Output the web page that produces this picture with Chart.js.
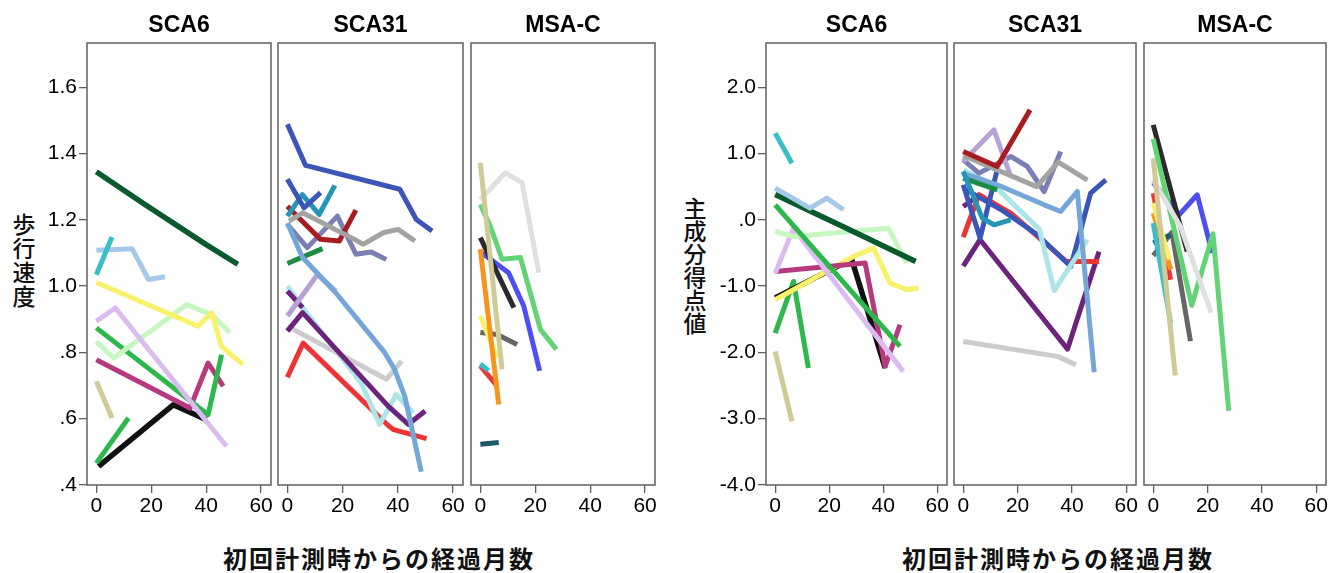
<!DOCTYPE html>
<html>
<head>
<meta charset="utf-8">
<script src="https://cdn.jsdelivr.net/npm/chart.js@4.4.1/dist/chart.umd.min.js"></script>
<style>
  body { margin: 0; width: 1330px; height: 573px; background: #fff; position: relative; overflow: hidden; }
  canvas { position: absolute; top: 0; }
  .ytitle { position: absolute; writing-mode: vertical-rl; font-family: "Noto Sans CJK JP"; font-size: 23px; font-weight: 500; line-height: 1; color: #111; }
  .xtitle { position: absolute; top: 546px; font-family: "Noto Sans CJK JP"; font-size: 24px; font-weight: bold; line-height: 1; letter-spacing: 2px; white-space: nowrap; color: #111; }
</style>
</head>
<body>
<div class="ytitle" style="left:12px;top:213px;letter-spacing:1px">歩行速度</div>
<div class="ytitle" style="left:683px;top:197px;letter-spacing:0px">主成分得点値</div>
<div class="xtitle" style="left:223px">初回計測時からの経過月数</div>
<div class="xtitle" style="left:902px">初回計測時からの経過月数</div>
<script>
const groups = ['SCA6', 'SCA31', 'MSA-C'];
const monthTicks = [0, 20, 40, 60];
const speedTicks = [0.4, 0.6, 0.8, 1.0, 1.2, 1.4, 1.6];
const scoreTicks = [-4, -3, -2, -1, 0, 1, 2];

// one entry per patient: [months since first measurement, value]
const speedSCA6 = [
  [[0, 1.345], [17, 1.25], [40, 1.125], [51.5, 1.066]],
  [[0, 1.034], [5.7, 1.148]],
  [[0, 1.108], [13, 1.113], [19, 1.02], [25, 1.028]],
  [[0, 1.011], [37, 0.879], [42, 0.919], [45.6, 0.818], [53.4, 0.763]],
  [[0, 0.894], [6.9, 0.934], [47.4, 0.517]],
  [[0, 0.833], [6.3, 0.783], [32.9, 0.944], [42, 0.914], [48.6, 0.859]],
  [[0, 0.874], [40.7, 0.612], [45.6, 0.793]],
  [[0, 0.778], [34.1, 0.632], [40.7, 0.768], [46.2, 0.698]],
  [[0, 0.713], [5.7, 0.602]],
  [[0, 0.466], [11.7, 0.602]],
  [[0.8, 0.456], [28, 0.642], [40.1, 0.597]]
];
const speedSCA31 = [
  [[0, 1.488], [6.6, 1.364], [40.7, 1.292], [46.7, 1.201], [52.4, 1.166]],
  [[0, 1.322], [6, 1.236], [12, 1.282]],
  [[0, 1.211], [5.4, 1.276], [11.5, 1.216], [17.2, 1.304]],
  [[0.6, 1.196], [5.5, 1.221], [24.3, 1.141], [27.4, 1.126], [34.7, 1.161], [40.1, 1.171], [46.2, 1.136]],
  [[0, 1.241], [2.3, 1.221], [12, 1.141], [18.8, 1.136], [24.8, 1.229]],
  [[0, 1.19], [5.4, 1.087], [9.6, 1.05], [17.5, 0.98], [35.2, 0.8], [38.8, 0.749], [42.5, 0.668], [48.5, 0.44]],
  [[0, 1.186], [7.2, 1.116], [18.1, 1.211], [24.8, 1.096], [30.3, 1.103], [35.8, 1.08]],
  [[0, 1.068], [12.7, 1.113]],
  [[0, 0.91], [10.9, 1.035], [17.5, 0.985]],
  [[0, 0.985], [5.5, 0.935]],
  [[0, 0.864], [5.5, 0.92], [36.5, 0.638], [43.8, 0.583], [49.9, 0.623]],
  [[0, 0.879], [35.9, 0.719], [41.4, 0.774]],
  [[0, 1.0], [6, 0.93], [26.6, 0.709], [33.4, 0.583], [39.4, 0.673], [45.5, 0.618]],
  [[0, 0.725], [5.7, 0.828], [36.4, 0.58], [38.5, 0.567], [50.4, 0.54]]
];
const speedMSAC = [
  [[0, 1.372], [7.9, 0.749]],
  [[0, 1.261], [9.1, 1.342], [15.2, 1.312], [21.3, 1.04]],
  [[0, 1.246], [3.6, 1.181], [7.9, 1.081], [14.6, 1.086], [21.9, 0.869], [27.7, 0.809]],
  [[0, 1.146], [12.2, 0.935]],
  [[0, 1.111], [6.7, 0.643]],
  [[0.6, 1.1], [10.3, 1.04], [15.8, 0.94], [21.6, 0.744]],
  [[0, 0.91], [6.1, 0.784]],
  [[0, 0.86], [6.1, 0.854], [13.4, 0.824]],
  [[0, 0.765], [3, 0.745]],
  [[0, 0.759], [6.1, 0.699]],
  [[0, 0.523], [6.7, 0.528]]
];
const scoreSCA6 = [
  [[0, 1.307], [6.2, 0.854]],
  [[0, 0.477], [12.9, 0.176], [19.1, 0.327], [25.3, 0.151]],
  [[0, 0.38], [26, -0.12], [52, -0.63]],
  [[0, 0.226], [46.2, -1.91]],
  [[0, -0.176], [6.8, -0.251], [41.9, -0.126], [48.7, -0.653]],
  [[0, -0.804], [6.8, -0.126], [47.4, -2.286]],
  [[0, -0.78], [33.3, -0.653], [40.7, -2.211], [46.2, -1.583]],
  [[0, -1.206], [29, -0.553], [36.4, -0.427], [42.5, -0.955], [48.7, -1.055], [53, -1.03]],
  [[0, -1.18], [28.3, -0.593], [40.7, -2.236]],
  [[0, -1.709], [6.8, -0.93], [12.3, -2.236]],
  [[0, -1.985], [6.2, -3.04]]
];
const scoreSCA31 = [
  [[0, 1.03], [12.5, 0.804], [24.6, 1.658]],
  [[0, 0.97], [27, 0.5], [35, 0.87], [45.7, 0.6]],
  [[0, 0.879], [11.3, 1.357], [17.5, 0.653]],
  [[0, 0.905], [5.8, 0.704], [17.5, 0.955], [23.6, 0.804], [29.8, 0.427], [35.9, 1.03]],
  [[0, 0.728], [7, 0.025], [11.3, -0.075], [17.5, 0]],
  [[0, 0.628], [12.5, 0.452]],
  [[0, 0.7], [12.5, 0.528], [29.8, 0.226], [35.9, 0.126], [42, 0.427], [48.2, -2.3]],
  [[0, 0.75], [11, 0.53], [28, -0.14], [33.5, -1.07], [45.7, -0.3]],
  [[0, 0.528], [6.2, -0.276], [12.5, 0.754]],
  [[0, 0.477], [15, 0.126], [27.3, -0.226], [39.6, -0.704], [46.9, 0.402], [52.5, 0.603]],
  [[0, -0.26], [5.8, 0.38], [17.5, 0.1], [38, -0.63], [50, -0.63]],
  [[0, 0.2], [5.2, 0.352]],
  [[0, -0.7], [6.2, -0.3], [38.4, -1.95], [50, -0.48]],
  [[0, -1.835], [34.7, -2.06], [41.5, -2.186]]
];
const scoreMSAC = [
  [[0, 0.93], [8.1, -2.35]],
  [[0, 0.6], [10, -0.1], [21.3, -1.4]],
  [[0, 1.22], [14.2, -1.29], [22, -0.21], [27.8, -2.88]],
  [[0, 1.432], [12.5, -0.478]],
  [[0, 0.565], [9.5, 0.075], [16.2, 0.377], [21.7, -0.5]],
  [[0, -0.05], [6.4, -1.558]],
  [[0, 0.25], [6, -0.6]],
  [[0, 0.1], [6.5, -0.75]],
  [[0, 0.402], [6.4, -0.905]],
  [[0, -0.35], [6.4, -0.226]],
  [[0, -0.54], [6.9, -0.19], [13.7, -1.83]]
];

const C = {
  darkGreen: '#0b5a2d', cyan: '#3cbec8', lightBlue: '#a7c9e9', yellow: '#f7f26a', lavender: '#dbbcf0',
  mint: '#c6f7c0', green: '#2eb84b', magenta: '#b63a7d', khaki: '#cfcb98', black: '#111111',
  blue: '#3b55b8', teal: '#2596b5', darkRed: '#a81b1e', gray: '#a3a3a3', slate: '#7b7fb3',
  steelBlue: '#74a6d8', green2: '#1b8c43', lavender2: '#b7a2d6', purple: '#6b237c', lightCyan: '#ace5e8',
  lightGray: '#cccccc', red: '#ee3535', paleGray: '#e0e0e0', green3: '#62d376', orange: '#f7941d',
  blue2: '#4d4ff5', darkGray: '#666666', darkTeal: '#1d5b6c', charcoal: '#2a2a2a'
};
const speedSCA6Colors = [C.darkGreen, C.cyan, C.lightBlue, C.yellow, C.lavender, C.mint, C.green, C.magenta, C.khaki, C.green, C.black];
const speedSCA31Colors = [C.blue, C.blue, C.teal, C.gray, C.darkRed, C.steelBlue, C.slate, C.green2, C.lavender2, C.purple, C.purple, C.lightGray, C.lightCyan, C.red];
const speedMSACColors = [C.khaki, C.paleGray, C.green3, C.charcoal, C.orange, C.blue2, C.yellow, C.darkGray, C.cyan, C.red, C.darkTeal];
const scoreSCA6Colors = [C.cyan, C.lightBlue, C.darkGreen, C.green, C.mint, C.lavender, C.magenta, C.yellow, C.black, C.green, C.khaki];
const scoreSCA31Colors = [C.darkRed, C.gray, C.lavender2, C.slate, C.teal, C.green2, C.steelBlue, C.lightCyan, C.blue, C.blue, C.red, C.purple, C.purple, C.lightGray];
const scoreMSACColors = [C.khaki, C.paleGray, C.green3, C.charcoal, C.blue2, C.cyan, C.yellow, C.orange, C.red, C.darkTeal, C.darkGray];

const FONT = '"Liberation Sans", Arial, sans-serif';
const speedAxis = { min: 0.4, max: 1.7333, ticks: speedTicks, fmt: v => v.toFixed(1).replace(/^0/, '') };
const scoreAxis = { min: -4, max: 2.6667, ticks: scoreTicks, fmt: v => v.toFixed(1).replace(/^0/, '') };

const panels = [
  { title: groups[0], data: speedSCA6, colors: speedSCA6Colors, left: 87, right: 271, y: speedAxis, axis: true },
  { title: groups[1], data: speedSCA31, colors: speedSCA31Colors, left: 278, right: 463, y: speedAxis },
  { title: groups[2], data: speedMSAC, colors: speedMSACColors, left: 471, right: 655, y: speedAxis },
  { title: groups[0], data: scoreSCA6, colors: scoreSCA6Colors, left: 766, right: 947, y: scoreAxis, axis: true },
  { title: groups[1], data: scoreSCA31, colors: scoreSCA31Colors, left: 954, right: 1136, y: scoreAxis },
  { title: groups[2], data: scoreMSAC, colors: scoreMSACColors, left: 1144, right: 1326, y: scoreAxis }
];

const frame = {
  id: 'frame',
  afterDatasetsDraw(chart) {
    const { ctx, chartArea: a } = chart;
    ctx.save();
    ctx.strokeStyle = '#606060';
    ctx.lineWidth = 1.5;
    ctx.strokeRect(a.left, a.top, a.right - a.left, a.bottom - a.top);
    ctx.restore();
  }
};

function makePanel(p) {
  const padL = p.axis ? 50 : 10, padR = 10;
  const cv = document.createElement('canvas');
  cv.width = p.right - p.left + padL + padR;
  cv.height = 530;
  cv.style.left = (p.left - padL) + 'px';
  document.body.appendChild(cv);

  const tickGrid = { drawOnChartArea: false, tickLength: 8, color: '#606060', lineWidth: 1.3 };
  new Chart(cv, {
    type: 'line',
    data: {
      datasets: p.data.map((pts, i) => ({
        data: pts.map(([x, y]) => ({ x, y })),
        borderColor: p.colors[i],
        borderWidth: p.colors[i] === C.black || p.colors[i] === C.darkGreen ? 5.5 : 5,
        borderJoinStyle: 'round',
        pointRadius: 0,
        fill: false,
        tension: 0
      }))
    },
    options: {
      responsive: false,
      animation: false,
      devicePixelRatio: 1,
      layout: { padding: { left: p.axis ? 0 : padL, right: padR, top: 0, bottom: 0 } },
      plugins: {
        legend: { display: false },
        tooltip: { enabled: false },
        title: {
          display: true, text: p.title, color: '#000', fullSize: false,
          font: { family: FONT, size: 23, weight: 'bold' },
          padding: { top: 12, bottom: 3.4 }
        }
      },
      scales: {
        x: {
          type: 'linear', min: -3.4, max: 63.6,
          afterBuildTicks: s => { s.ticks = monthTicks.map(v => ({ value: v })); },
          afterFit: s => { s.height = 45; },
          grid: tickGrid,
          border: { display: false },
          ticks: { font: { family: FONT, size: 21 }, color: '#000', padding: 1, maxRotation: 0, autoSkip: false }
        },
        y: {
          type: 'linear', display: !!p.axis, min: p.y.min, max: p.y.max,
          afterBuildTicks: s => { s.ticks = p.y.ticks.map(v => ({ value: v })); },
          afterFit: s => { if (p.axis) s.width = padL; },
          grid: tickGrid,
          border: { display: false },
          ticks: { font: { family: FONT, size: 21 }, color: '#000', padding: 2, autoSkip: false, callback: v => p.y.fmt(v) }
        }
      }
    },
    plugins: [frame]
  });
}

panels.forEach(makePanel);
</script>
</body>
</html>
